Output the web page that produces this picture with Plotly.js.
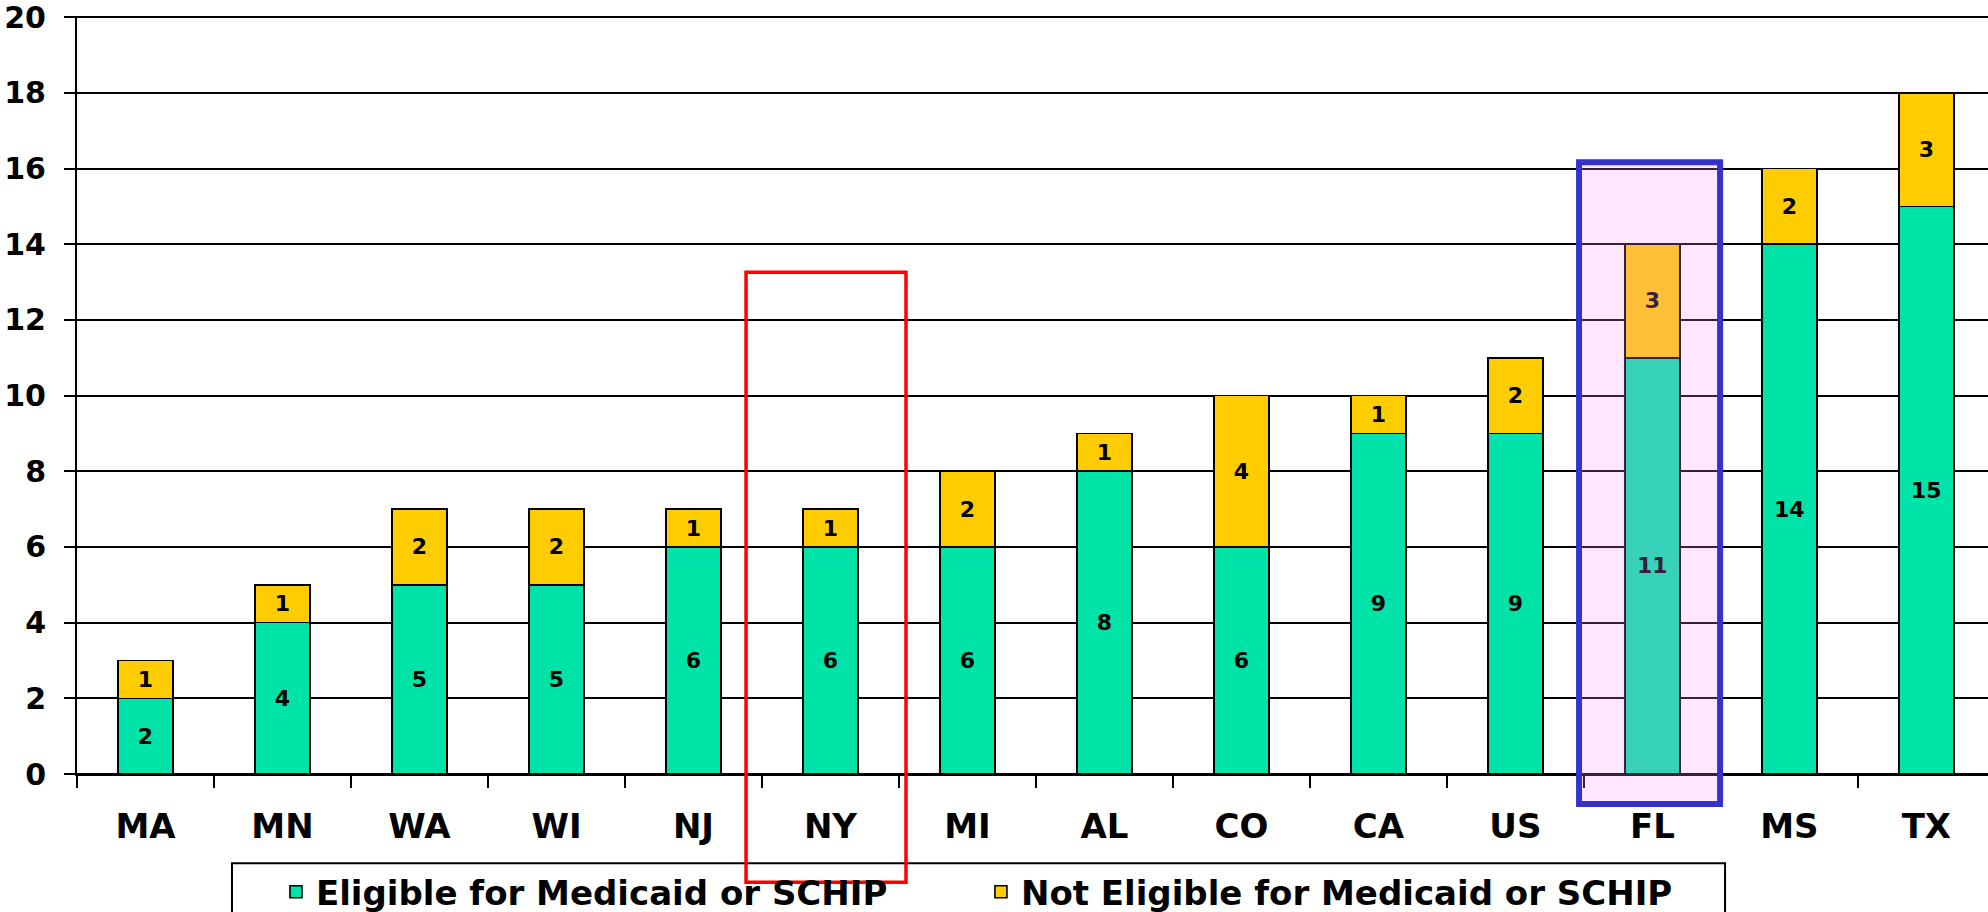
<!DOCTYPE html>
<html>
<head>
<meta charset="utf-8">
<script src="https://cdn.plot.ly/plotly-3.0.1.min.js"></script>
<style>
html, body { margin: 0; padding: 0; overflow: hidden; background: #fff; }
#chart { width: 1988px; height: 960px; }
</style>
</head>
<body>
<div id="chart"></div>
<script>
var states = ["MA", "MN", "WA", "WI", "NJ", "NY", "MI", "AL", "CO", "CA", "US", "FL", "MS", "TX"];
var eligible = [2, 4, 5, 5, 6, 6, 6, 8, 6, 9, 9, 11, 14, 15];
var notEligible = [1, 1, 2, 2, 1, 1, 2, 1, 4, 1, 2, 3, 2, 3];
var seriesNames = ["Eligible for Medicaid or SCHIP", "Not Eligible for Medicaid or SCHIP"];
var yTicks = [0, 2, 4, 6, 8, 10, 12, 14, 16, 18, 20];

var FONT = "DejaVu Sans, Verdana, sans-serif";

function barTrace(vals, name, color) {
  return {
    type: "bar",
    x: states,
    y: vals,
    name: name,
    width: 0.4,
    text: vals.map(String),
    textposition: "inside",
    insidetextanchor: "middle",
    constraintext: "none",
    textangle: 0,
    textfont: { family: FONT, size: 22, color: "#000", weight: "bold" },
    marker: { color: color, line: { color: "#000", width: 1.6 } },
    hoverinfo: "x+y+name"
  };
}

var data = [
  barTrace(eligible, seriesNames[0], "#00E3A8"),
  barTrace(notEligible, seriesNames[1], "#FFCC00")
];

var layout = {
  width: 1988,
  height: 960,
  margin: { l: 77, r: 0, t: 16, b: 186 },
  paper_bgcolor: "#fff",
  plot_bgcolor: "#fff",
  barmode: "stack",
  showlegend: true,
  font: { family: FONT, color: "#000" },
  xaxis: {
    type: "category",
    range: [-0.5, 13.45],
    showgrid: false,
    showline: true,
    linecolor: "#000",
    linewidth: 2,
    ticks: "outside",
    tickson: "boundaries",
    ticklen: 12,
    tickwidth: 2,
    tickcolor: "#000",
    ticklabelstandoff: 21,
    tickfont: { family: FONT, size: 34, color: "#000", weight: "bold" },
    fixedrange: true
  },
  yaxis: {
    range: [0, 20.03],
    tickvals: yTicks,
    ticktext: yTicks.map(String),
    ticklabeloverflow: "allow",
    showgrid: true,
    gridcolor: "#000",
    gridwidth: 2,
    zeroline: true,
    zerolinecolor: "#000",
    zerolinewidth: 2,
    showline: true,
    linecolor: "#000",
    linewidth: 2,
    ticks: "outside",
    ticklen: 11,
    tickwidth: 2,
    tickcolor: "#000",
    ticklabelstandoff: 12,
    tickfont: { family: FONT, size: 30, color: "#000", weight: "bold" },
    fixedrange: true
  },
  legend: {
    orientation: "h",
    x: 0.1041,
    xanchor: "left",
    y: -0.1176,
    yanchor: "top",
    traceorder: "normal",
    bgcolor: "rgba(0,0,0,0)",
    borderwidth: 0,
    entrywidth: 660,
    entrywidthmode: "pixels",
    font: { family: FONT, size: 34, color: "#000", weight: "bold" }
  },
  shapes: [
    {
      type: "rect", xref: "paper", yref: "paper",
      x0: 0.0811, x1: 0.8624, y0: -0.2193, y1: -0.1176,
      line: { color: "#000", width: 2 },
      fillcolor: "#fff",
      layer: "below"
    },
    {
      type: "rect", xref: "paper", yref: "paper",
      x0: 0.3501, x1: 0.4338, y0: -0.1427, y1: 0.6618,
      line: { color: "#FF0000", width: 3.5 },
      fillcolor: "rgba(0,0,0,0)",
      layer: "above"
    },
    {
      type: "rect", xref: "paper", yref: "paper",
      x0: 0.786, x1: 0.8598, y0: -0.0396, y1: 0.8071,
      line: { color: "#3333CC", width: 6 },
      fillcolor: "rgba(255,150,255,0.22)",
      layer: "above"
    }
  ]
};

Plotly.newPlot("chart", data, layout, { displayModeBar: false, responsive: false, staticPlot: true });
</script>
</body>
</html>
